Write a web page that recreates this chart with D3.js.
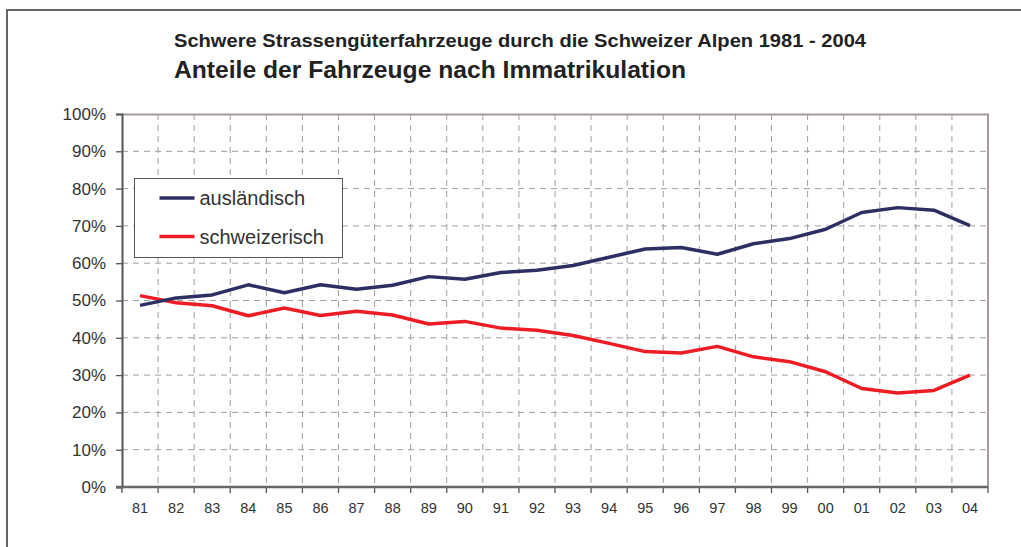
<!DOCTYPE html>
<html>
<head>
<meta charset="utf-8">
<script src="https://cdn.jsdelivr.net/npm/d3@7"></script>
<style>
  body { margin: 0; background: #fff; }
  svg { display: block; font-family: "Liberation Sans", Arial, sans-serif; }
</style>
</head>
<body>
<div id="chart"></div>
<script>
// data
const years = ["81","82","83","84","85","86","87","88","89","90","91","92",
               "93","94","95","96","97","98","99","00","01","02","03","04"];
const auslaendisch = [48.7, 50.7, 51.5, 54.2, 52.1, 54.2, 53.0, 54.1, 56.4, 55.7, 57.5, 58.1,
                      59.4, 61.6, 63.8, 64.2, 62.4, 65.2, 66.6, 69.1, 73.6, 74.9, 74.2, 70.1];
const schweizerisch = [51.3, 49.4, 48.6, 45.9, 48.0, 46.0, 47.1, 46.1, 43.7, 44.4, 42.6, 42.0,
                       40.6, 38.5, 36.3, 35.9, 37.7, 34.9, 33.6, 30.9, 26.4, 25.2, 25.9, 30.0];
const yTicks = [0, 10, 20, 30, 40, 50, 60, 70, 80, 90, 100];
const seriesNames = ["ausländisch", "schweizerisch"];

const W = 1021, H = 547;
const margin = { top: 114, right: 33, bottom: 60, left: 122 };
const width = W - margin.left - margin.right;
const height = H - margin.top - margin.bottom;

const svg = d3.select("#chart").append("svg")
    .attr("width", W)
    .attr("height", H);

// outer frame (only top and left visible in the picture)
svg.append("path")
    .attr("d", `M7,${H + 2}V10H${W + 2}`)
    .attr("fill", "none")
    .attr("stroke", "#333")
    .attr("stroke-width", 1.5);

// titles
svg.append("text")
    .attr("x", 174).attr("y", 47)
    .attr("textLength", 692).attr("lengthAdjust", "spacingAndGlyphs")
    .style("font-size", "17.5px").style("font-weight", "bold").style("fill", "#222")
    .text("Schwere Strassengüterfahrzeuge durch die Schweizer Alpen 1981 - 2004");

svg.append("text")
    .attr("x", 174).attr("y", 78)
    .attr("textLength", 512).attr("lengthAdjust", "spacingAndGlyphs")
    .style("font-size", "23px").style("font-weight", "bold").style("fill", "#222")
    .text("Anteile der Fahrzeuge nach Immatrikulation");

const g = svg.append("g")
    .attr("transform", `translate(${margin.left},${margin.top})`);

// scales
const x = d3.scaleBand().domain(years).range([0, width]).padding(0);
const y = d3.scaleLinear().domain([0, 100]).range([height, 0]);

const gridColor = "#a69c9c";

// horizontal grid
g.append("g")
    .selectAll("line")
    .data(yTicks.filter(d => d > 0 && d < 100))
    .join("line")
    .attr("x1", 0).attr("x2", width)
    .attr("y1", d => y(d)).attr("y2", d => y(d))
    .attr("stroke", gridColor)
    .attr("stroke-width", 1)
    .attr("stroke-dasharray", "6,5");

// vertical grid at category boundaries
const bounds = years.slice(1).map(d => x(d));
g.append("g")
    .selectAll("line")
    .data(bounds)
    .join("line")
    .attr("x1", d => d).attr("x2", d => d)
    .attr("y1", 0).attr("y2", height)
    .attr("stroke", gridColor)
    .attr("stroke-width", 1)
    .attr("stroke-dasharray", "6,5");

// plot frame top / right
g.append("path")
    .attr("d", `M0,0.5H${width}V${height}`)
    .attr("fill", "none")
    .attr("stroke", "#a59a9a")
    .attr("stroke-width", 2);

// y axis
const yAxis = g.append("g")
    .call(d3.axisLeft(y).tickValues(yTicks).tickFormat(d => d + "%").tickSize(6).tickPadding(10));
yAxis.select(".domain").attr("stroke", "#555").attr("stroke-width", 2);
yAxis.selectAll(".tick line").attr("stroke", "#555").attr("stroke-width", 1.3);
yAxis.selectAll("text")
    .style("font-size", "17px")
    .style("fill", "#333")
    .style("font-family", "Liberation Sans, Arial, sans-serif");

// x axis: labels at band centers, ticks at band boundaries
const xAxis = g.append("g")
    .attr("transform", `translate(0,${height})`)
    .call(d3.axisBottom(x).tickSize(0).tickPadding(16));
xAxis.select(".domain").remove();
xAxis.selectAll("text")
    .style("font-size", "14.5px")
    .style("fill", "#333")
    .style("font-family", "Liberation Sans, Arial, sans-serif");

g.append("g")
    .selectAll("line")
    .data([0, ...bounds, width])
    .join("line")
    .attr("x1", d => d).attr("x2", d => d)
    .attr("y1", height).attr("y2", height + 6)
    .attr("stroke", "#555")
    .attr("stroke-width", 1.3);

g.append("line")
    .attr("x1", -6).attr("x2", width)
    .attr("y1", height).attr("y2", height)
    .attr("stroke", "#666")
    .attr("stroke-width", 2.5);

// lines
const colors = { "ausländisch": "#2d2f62", "schweizerisch": "#ee1d25" };
const seriesData = { "ausländisch": auslaendisch, "schweizerisch": schweizerisch };

const line = d3.line()
    .x((d, i) => x(years[i]) + x.bandwidth() / 2)
    .y(d => y(d));

["schweizerisch", "ausländisch"].forEach(name => {
    g.append("path")
        .datum(seriesData[name])
        .attr("fill", "none")
        .attr("stroke", colors[name])
        .attr("stroke-width", 3.5)
        .attr("stroke-linejoin", "round")
        .attr("d", line);
});

// legend
const legend = svg.append("g").attr("transform", "translate(134.5,178.5)");
legend.append("rect")
    .attr("width", 208).attr("height", 79)
    .attr("fill", "#fff")
    .attr("stroke", "#555")
    .attr("stroke-width", 1);

seriesNames.forEach((name, i) => {
    const item = legend.append("g").attr("transform", `translate(0,${19.5 + i * 38.5})`);
    item.append("line")
        .attr("x1", 25).attr("x2", 60)
        .attr("stroke", colors[name])
        .attr("stroke-width", 3.5);
    item.append("text")
        .attr("x", 65).attr("y", 7)
        .style("font-size", "20px")
        .style("fill", "#333")
        .text(name);
});
</script>
</body>
</html>
